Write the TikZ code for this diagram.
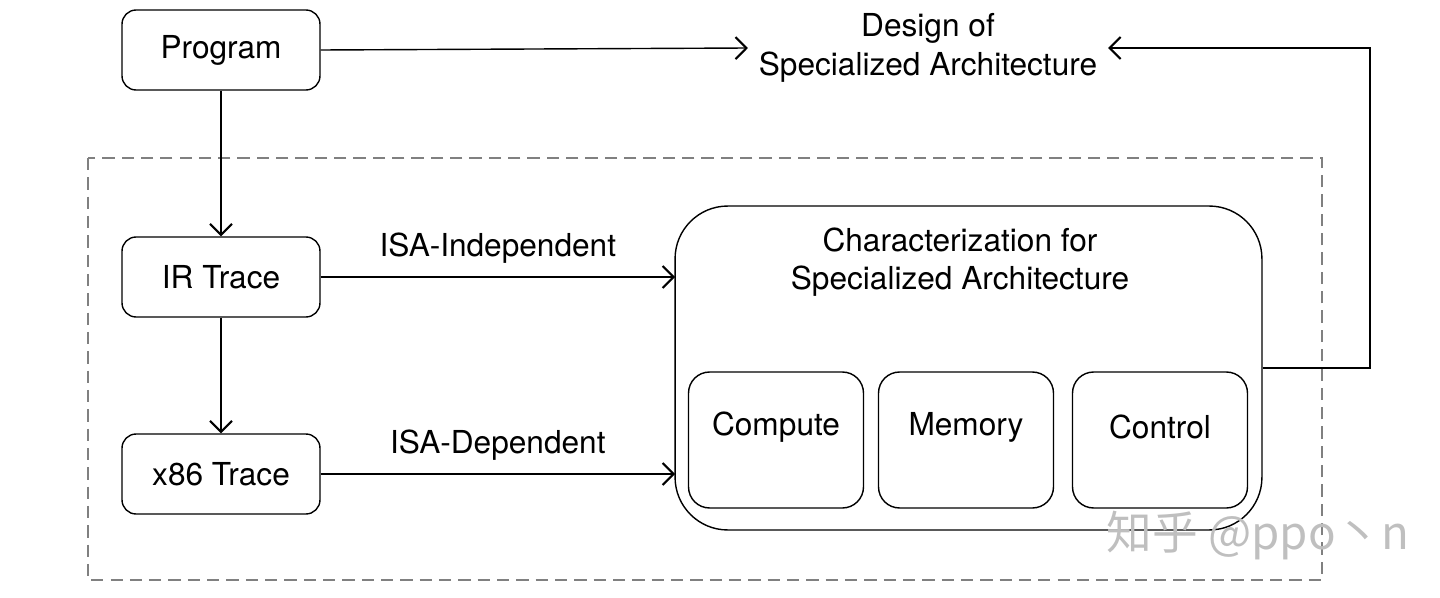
\documentclass[tikz,border=0pt]{standalone}
\usepackage{fontspec}
\setmainfont{TeX Gyre Heros}
\newfontfamily\cjk{Noto Sans CJK SC}
\usetikzlibrary{arrows.meta,positioning}

\begin{document}
\begin{tikzpicture}[x=0.02cm,y=-0.02cm,font=\fontsize{18}{22}\selectfont]
	\tikzset{box/.style={draw,thick,rounded corners=8pt,minimum width=3.96cm,minimum height=1.6cm}}
	\tikzset{inner/.style={draw,thick,rounded corners=12pt,minimum width=3.5cm,minimum height=2.72cm}}
	\tikzset{arr/.style={-{Straight Barb[length=2.2mm,width=4.4mm,line width=1.2pt]},thick}}
	\useasboundingbox (0,0) rectangle (1440,598);
	\draw[gray,dash pattern=on 7pt off 4pt,thick] (88,158) rectangle (1322,580);
	\node[box] (prog) at (221,50) {Program};
	\node[box] (ir) at (221,277) {IR Trace};
	\node[box] (x86) at (221,474) {x86 Trace};
	\node[align=center,inner sep=6pt] (design) at (928,48) {Design of\\Specialized Architecture};
	\node[draw,thick,rounded corners=30pt,minimum width=11.74cm,minimum height=6.48cm] (char) at (968.5,368) {};
	\node[align=center] (title) at (960,262) {Characterization for\\Specialized Architecture};
	\node[inner] (comp) at (776,440) {};
	\node[inner] (mem) at (966,440) {};
	\node[inner] (ctrl) at (1160,440) {};
	\node (compl) at (776,427) {Compute};
	\node (meml) at (966,427) {Memory};
	\node (ctrll) at (1160,427) {Control};
	\coordinate (ci) at (675,277);
	\coordinate (cd) at (675,474);
	\node[text=black!25,font=\cjk\fontsize{26}{30}\selectfont] (wm) at (1258,536) {知乎 @ppo丶n};
	\path[arr]
		(prog) edge (ir)
		(ir) edge (x86)
		(prog.east) edge (design.west)
		(ir) edge node[above,yshift=4pt] {ISA-Independent} (ci)
		(x86) edge node[above,yshift=4pt] {ISA-Dependent} (cd);
	\draw[arr] (char.east) -- (1370,368) |- (design.east);
\end{tikzpicture}
\end{document}
